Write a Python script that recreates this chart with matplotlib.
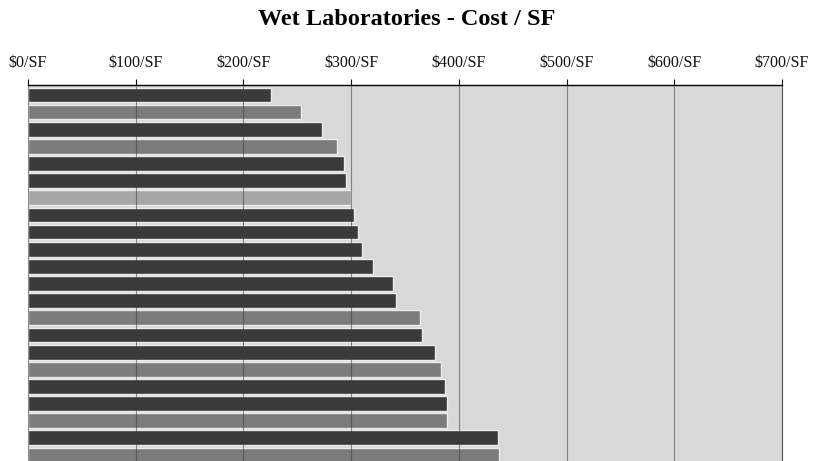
import numpy as np
import matplotlib
matplotlib.use('Agg')
import matplotlib.pyplot as plt
from matplotlib.ticker import MultipleLocator, FuncFormatter

# cost per square foot of each wet lab project, top to bottom
cost_per_sf = [226, 253, 273, 287, 293, 295, 300, 303, 306, 310, 320,
               339, 342, 364, 366, 378, 383, 387, 389, 389, 436, 437]
# shade group of each bar (d = dark, m = medium, l = light)
shade = ['d', 'm', 'd', 'm', 'd', 'd', 'l', 'd', 'd', 'd', 'd',
         'd', 'd', 'm', 'd', 'd', 'm', 'd', 'd', 'm', 'd', 'm']
shade_colors = {'d': '#3a3a3a', 'm': '#7c7c7c', 'l': '#a6a6a6'}

plt.rcParams['font.family'] = ['Liberation Serif', 'DejaVu Serif']

fig = plt.figure(figsize=(8.14, 4.61), dpi=100)
ax = fig.add_axes([0.0344, 0.0, 0.9263, 0.8156])
ax.set_facecolor('#d8d8d8')

ypos = np.arange(len(cost_per_sf))
ax.barh(ypos, cost_per_sf, height=0.86,
        color=[shade_colors[s] for s in shade],
        edgecolor='#ececec', linewidth=1.0, zorder=2)

ax.set_xlim(0, 700)
ax.set_ylim(21.35, -0.58)
ax.xaxis.set_major_locator(MultipleLocator(100))
ax.xaxis.set_major_formatter(FuncFormatter(lambda v, p: '${:d}/SF'.format(int(v))))
ax.xaxis.tick_top()
ax.tick_params(axis='x', direction='out', length=4, width=0.8, pad=6,
               labelsize=11.5, colors='#111111')
ax.set_yticks([])

# faint on the bars, as in the scanned original
ax.grid(axis='x', color='#3c3c3c', linewidth=0.8, alpha=0.55, zorder=3)
ax.set_axisbelow(False)

for side in ['bottom', 'left']:
    ax.spines[side].set_visible(False)
ax.spines['top'].set_linewidth(1.0)
ax.spines['right'].set_linewidth(0.8)
ax.spines['right'].set_color('#555555')

fig.text(0.4995, 0.957, 'Wet Laboratories - Cost / SF', ha='center', va='center',
         fontsize=17.5, fontweight='bold')

fig.savefig('out.png', dpi=100, facecolor='white')
